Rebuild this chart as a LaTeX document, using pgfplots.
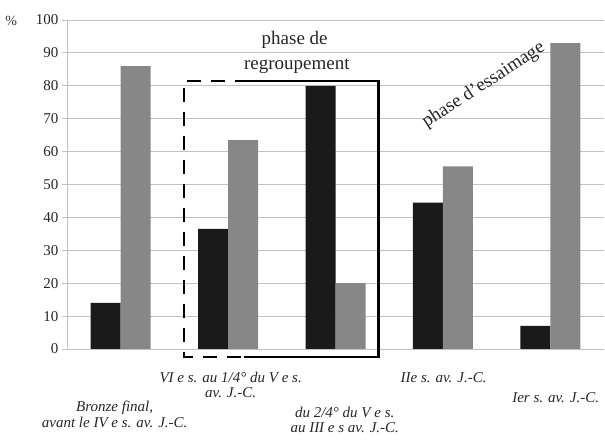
\documentclass[border=0pt]{standalone}
\usepackage{fontspec}
\setmainfont{Liberation Serif}
\usepackage{pgfplots}
\pgfplotsset{compat=1.18}
\definecolor{barblack}{HTML}{1A1A1A}
\definecolor{bargray}{HTML}{878787}
\definecolor{gridc}{HTML}{C8C0C0}
\begin{document}
\begin{tikzpicture}[x=1pt,y=1pt]
\useasboundingbox (0,0) rectangle (605,443);
\begin{axis}[at={(67pt,94pt)}, anchor=south west, scale only axis,
  width=537pt, height=329pt, xmin=-0.5, xmax=4.5, ymin=0, ymax=100,
  ytick={0,10,...,100}, xtick=\empty, ymajorgrids,
  grid style={gridc, line width=0.9pt},
  axis x line*=bottom, axis y line*=left,
  axis line style={gridc, line width=0.9pt, -},
  tick style={gridc, line width=0.9pt}, tick align=outside, major tick length=5pt,
  ybar=0pt, bar width=30pt, clip=false,
  yticklabel style={font=\fontsize{15}{15}\selectfont, text=black!85},
  /pgf/number format/assume math mode=true]
\addplot[fill=barblack, draw=none] coordinates {(0,14) (1,36.5) (2,80) (3,44.5) (4,7)};
\addplot[fill=bargray, draw=none] coordinates {(0,86) (1,63.5) (2,20) (3,55.5) (4,93)};
% boxes
\draw[line width=2.4pt, black] (axis cs:1.19,81.5) -- (axis cs:2.40,81.5) -- (axis cs:2.40,-2.4) -- (axis cs:1.145,-2.4);
\draw[line width=2.4pt, black, dash pattern=on 14pt off 10pt] (axis cs:1.19,81.5) -- (axis cs:0.587,81.5) -- (axis cs:0.587,-2.4) -- (axis cs:1.145,-2.4);
% texts
\node[font=\fontsize{19}{19}\selectfont, text=black!85] at (axis cs:1.62,93.9) {phase de};
\node[font=\fontsize{19}{19}\selectfont, text=black!85] at (axis cs:1.64,86) {regroupement};
\node[font=\fontsize{19}{19}\selectfont, text=black!85, rotate=33] at (axis cs:3.38,80.2) {phase d'essaimage};
\node[font=\fontsize{14}{14}\selectfont, text=black!80] at (axis cs:-1.02,99.6) {\%};
% category labels
\begin{scope}[every node/.style={font=\fontsize{15}{15.5}\selectfont\itshape, text=black!85, align=center}]
\node at (axis cs:-0.056,-19.8) {Bronze final,\\avant le IV e s. av. J.-C.};
\node at (axis cs:1.024,-10.9) {VI e s. au 1/4° du V e s.\\av. J.-C.};
\node at (axis cs:2.086,-21.6) {du 2/4° du V e s.\\au III e s av. J.-C.};
\node at (axis cs:3.007,-8.8) {IIe s. av. J.-C.};
\node at (axis cs:4.05,-14.9) {Ier s. av. J.-C.};
\end{scope}
\end{axis}
\end{tikzpicture}
\end{document}
